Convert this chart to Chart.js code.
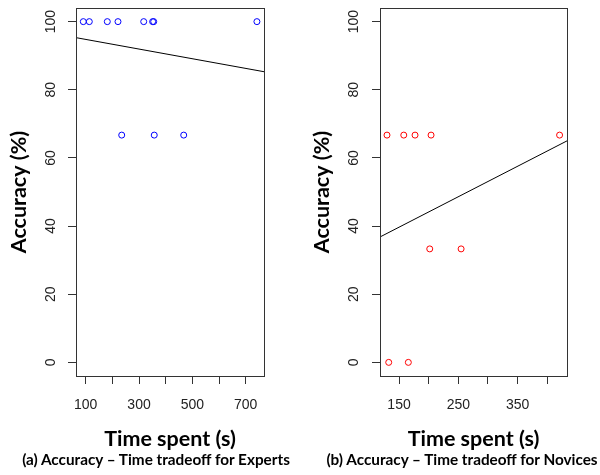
<!DOCTYPE html>
<html><head><meta charset="utf-8">
<script src="https://cdn.jsdelivr.net/npm/chart.js@4"></script>
<style>
html,body{margin:0;padding:0;background:#fff;width:600px;height:475px;overflow:hidden}
.panel{position:absolute;top:0;width:300px;height:475px}
.cap{position:absolute;top:450px;font-family:Lato,"Open Sans",sans-serif;font-weight:bold;font-size:15.3px;line-height:19px;white-space:nowrap;transform:translateX(-50%);color:#000}
</style></head><body>
<div class="panel" style="left:0"><canvas id="c1" width="300" height="475"></canvas></div>
<div class="panel" style="left:300px"><canvas id="c2" width="300" height="475"></canvas></div>
<div class="cap" style="left:156px">(a) Accuracy – Time tradeoff for Experts</div>
<div class="cap" style="left:462px">(b) Accuracy – Time tradeoff for Novices</div>
<script>
// Experts
const expertTime = [91, 113.5, 181, 221, 317.5, 351, 355, 742, 235, 357, 467.5];
const expertAccuracy = [100, 100, 100, 100, 100, 100, 100, 100, 66.7, 66.7, 66.7];
const expertXRange = [63.6, 768.6];
const expertTrend = [95.3, 85.3];
const expertXTicks = [100, 200, 300, 400, 500, 600, 700];
const expertTickLabels = ['100', '300', '500', '700'];
// Novices
const noviceTime = [129.7, 158, 177, 204, 420.8, 201.8, 254.7, 132.6, 165.7];
const noviceAccuracy = [66.7, 66.7, 66.7, 66.7, 66.7, 33.3, 33.3, 0, 0];
const noviceXRange = [117.9, 433.3];
const noviceTrend = [36.8, 65.0];
const noviceXTicks = [150, 200, 250, 300, 350, 400];
const noviceTickLabels = ['150', '250', '350'];
// shared
const yRange = [-4, 104];
const yTicks = [0, 20, 40, 60, 80, 100];

const boxPlugin = {
  id: 'box',
  afterDraw(chart) {
    const a = chart.chartArea, ctx = chart.ctx;
    ctx.save();
    ctx.strokeStyle = '#333';
    ctx.lineWidth = 1;
    ctx.strokeRect(Math.round(a.left) + 0.5, Math.round(a.top) + 0.5,
      Math.round(a.right) - Math.round(a.left), Math.round(a.bottom) - Math.round(a.top));
    ctx.restore();
  }
};

function makeChart(id, xs, ys, color, xRange, trend, xTicks, tickLabels, yAxisWidth, yTitlePad, yTickPad, rightPad) {
  const pts = xs.map((x, i) => ({x: x, y: ys[i]}));
  const line = [{x: xRange[0], y: trend[0]}, {x: xRange[1], y: trend[1]}];
  const tickFont = {family: '"Liberation Sans", Arial, sans-serif', size: 14};
  const titleFont = {family: 'Lato, "Open Sans", sans-serif', size: 21.5, weight: 'bold'};
  return new Chart(document.getElementById(id), {
    type: 'scatter',
    data: {
      datasets: [
        {data: pts, pointStyle: 'circle', pointRadius: 3, borderWidth: 1,
         borderColor: color, backgroundColor: 'rgba(0,0,0,0)', showLine: false},
        {data: line, showLine: true, pointRadius: 0, borderColor: '#000', borderWidth: 1, fill: false}
      ]
    },
    options: {
      responsive: false, animation: false,
      layout: {padding: {left: 0, top: 8, right: rightPad, bottom: 0}},
      plugins: {legend: {display: false}, tooltip: {enabled: false}},
      scales: {
        x: {
          type: 'linear', min: xRange[0], max: xRange[1],
          border: {display: true, color: '#333', width: 1},
          grid: {drawOnChartArea: false, drawTicks: true, tickLength: 8, color: '#333'},
          ticks: {autoSkip: false, maxRotation: 0,
                  padding: 13, color: '#222', font: tickFont,
                  callback: v => tickLabels.includes(String(v)) ? String(v) : ''},
          afterBuildTicks: s => { s.ticks = xTicks.map(v => ({value: v})); },
          title: {display: true, text: 'Time spent (s)', color: '#000', font: titleFont,
                  padding: {top: 0, bottom: 23}},
          afterFit: s => { s.height = 99; s.paddingLeft = 0; s.paddingRight = 0; }
        },
        y: {
          type: 'linear', min: yRange[0], max: yRange[1],
          border: {display: true, color: '#333', width: 1},
          grid: {drawOnChartArea: false, drawTicks: true, tickLength: 8, color: '#333'},
          ticks: {autoSkip: false,
                  minRotation: 90, maxRotation: 90, crossAlign: 'center',
                  padding: yTickPad, color: '#222', font: tickFont},
          afterBuildTicks: s => { s.ticks = yTicks.map(v => ({value: v})); },
          title: {display: true, text: 'Accuracy (%)', color: '#000', font: titleFont,
                  padding: {top: yTitlePad, bottom: 0}},
          afterFit: s => { s.width = yAxisWidth; s.paddingTop = 0; s.paddingBottom = 0; }
        }
      }
    },
    plugins: [boxPlugin]
  });
}

makeChart('c1', expertTime, expertAccuracy, '#0000ff', expertXRange, expertTrend, expertXTicks, expertTickLabels, 76, 6, 5, 36);
makeChart('c2', noviceTime, noviceAccuracy, '#ff0000', noviceXRange, noviceTrend, noviceXTicks, noviceTickLabels, 80, 9, 6, 33);
</script>
</body></html>
